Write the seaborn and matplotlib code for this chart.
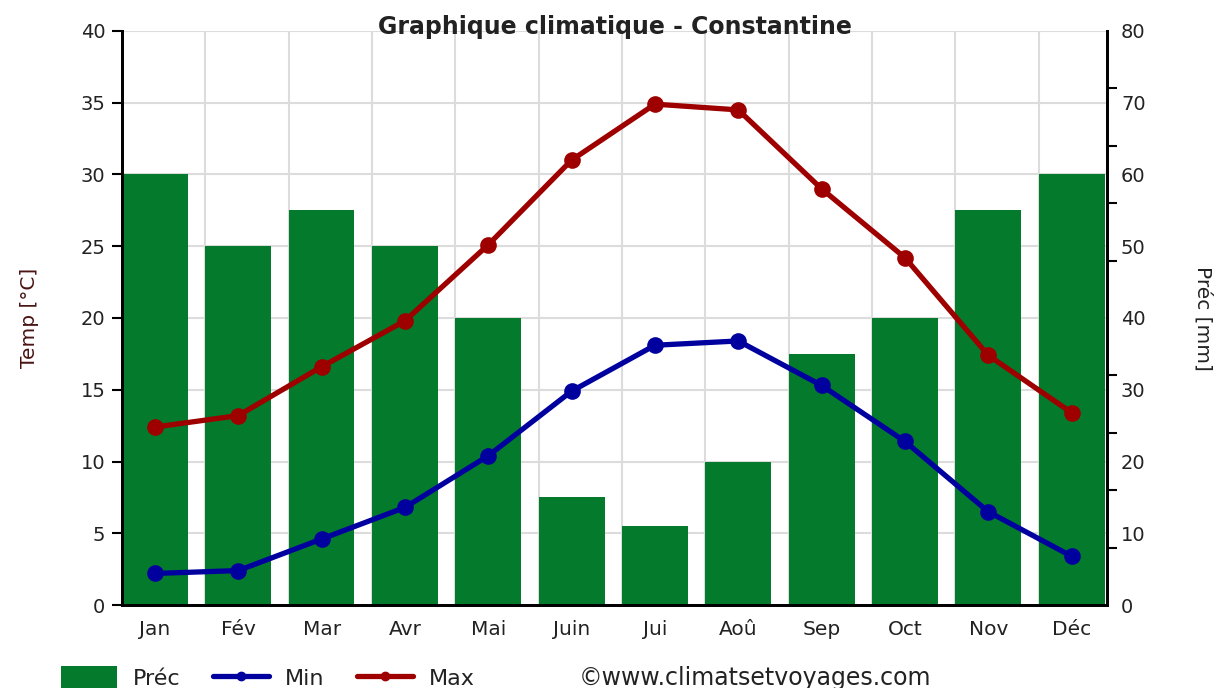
import matplotlib
matplotlib.use("Agg")
import matplotlib.pyplot as plt
import seaborn as sns
import numpy as np
from matplotlib.lines import Line2D
from matplotlib.patches import Patch
from matplotlib.ticker import MultipleLocator

months = ["Jan", "Fév", "Mar", "Avr", "Mai", "Juin", "Jui", "Aoû", "Sep", "Oct", "Nov", "Déc"]
prec = [60, 50, 55, 50, 40, 15, 11, 20, 35, 40, 55, 60]
t_min = [2.2, 2.4, 4.6, 6.8, 10.4, 14.9, 18.1, 18.4, 15.3, 11.4, 6.5, 3.4]
t_max = [12.4, 13.2, 16.6, 19.8, 25.1, 31.0, 34.9, 34.5, 29.0, 24.2, 17.4, 13.4]

GREEN = "#037A2C"
BLUE = "#00009E"
RED = "#9E0000"
TXT = "#222222"

sns.set_style("white")
plt.rcParams["font.family"] = ["DejaVu Sans"]

bar_w = 0.79
slots = np.arange(len(months))
centers = slots + bar_w / 2

fig = plt.figure(figsize=(12.16, 6.88), dpi=100)
ax = fig.add_axes([0.1003, 0.1206, 0.8101, 0.8344])  # precipitation (right axis)
ax2 = ax.twinx()  # temperature (left axis)

# bars
sns.barplot(x=centers, y=prec, native_scale=True, width=bar_w, color=GREEN,
            saturation=1, linewidth=0, errorbar=None, ax=ax)

# lines
sns.lineplot(x=centers, y=t_min, color=BLUE, marker="o", markersize=12,
             markeredgewidth=0, linewidth=3.8, ax=ax2)
sns.lineplot(x=centers, y=t_max, color=RED, marker="o", markersize=12,
             markeredgewidth=0, linewidth=3.8, ax=ax2)

# x axis
ax.set_xlim(0, 11.82)
ax.set_xticks(slots)
ax.set_xticklabels([])
ax.set_xticks(centers, minor=True)
ax.set_xticklabels(months, minor=True)
ax.tick_params(axis="x", which="major", length=7, width=1.5, color="black", direction="out")
ax.tick_params(axis="x", which="minor", length=0, labelsize=14.5, labelcolor=TXT, pad=11)
ax.set_xlabel("")

# precipitation axis on the right
ax.set_ylim(0, 80)
ax.yaxis.tick_right()
ax.yaxis.set_label_position("right")
ax.yaxis.set_major_locator(MultipleLocator(10))
ax.yaxis.set_minor_locator(MultipleLocator(8))
ax.tick_params(axis="y", which="major", length=0, labelsize=14, labelcolor=TXT, pad=10)
ax.tick_params(axis="y", which="minor", length=7, width=1.5, color="black", direction="out")
ax.set_ylabel("Préc [mm]", rotation=270, fontsize=14.5, color=TXT, labelpad=48)

# temperature axis on the left
ax2.set_ylim(0, 40)
ax2.yaxis.tick_left()
ax2.yaxis.set_label_position("left")
ax2.yaxis.set_major_locator(MultipleLocator(5))
ax2.tick_params(axis="y", length=7, width=1.5, color="black", direction="out",
                labelsize=14, labelcolor=TXT, pad=5)
ax2.set_ylabel("Temp [°C]", fontsize=14.5, color="#4a1414", labelpad=30)

# grid under the bars
ax.set_axisbelow(True)
ax.grid(True, which="major", axis="both", color="#DCDCDC", linewidth=1.5)

for a in (ax, ax2):
    a.spines["top"].set_visible(False)
    for s in ("left", "right", "bottom"):
        a.spines[s].set_visible(True)
        a.spines[s].set_color("black")
        a.spines[s].set_linewidth(2)

ax.text(0.5, 1.007, "Graphique climatique - Constantine", transform=ax.transAxes,
        ha="center", va="center", fontsize=17, fontweight="bold", color=TXT)

handles = [
    Patch(facecolor=GREEN, edgecolor="none", label="Préc"),
    Line2D([], [], color=BLUE, marker="o", markersize=6, linewidth=3.8, label="Min"),
    Line2D([], [], color=RED, marker="o", markersize=6, linewidth=3.8, label="Max"),
]
fig.legend(handles=handles, loc="center left", bbox_to_anchor=(0.034, 0.015), ncol=3,
           frameon=False, fontsize=16, handlelength=2.5, handleheight=1.2,
           columnspacing=1.5, handletextpad=0.7, labelcolor=TXT)
fig.text(0.476, 0.015, "©www.climatsetvoyages.com", fontsize=17, color=TXT, va="center")

fig.savefig("out.png", dpi=100)
